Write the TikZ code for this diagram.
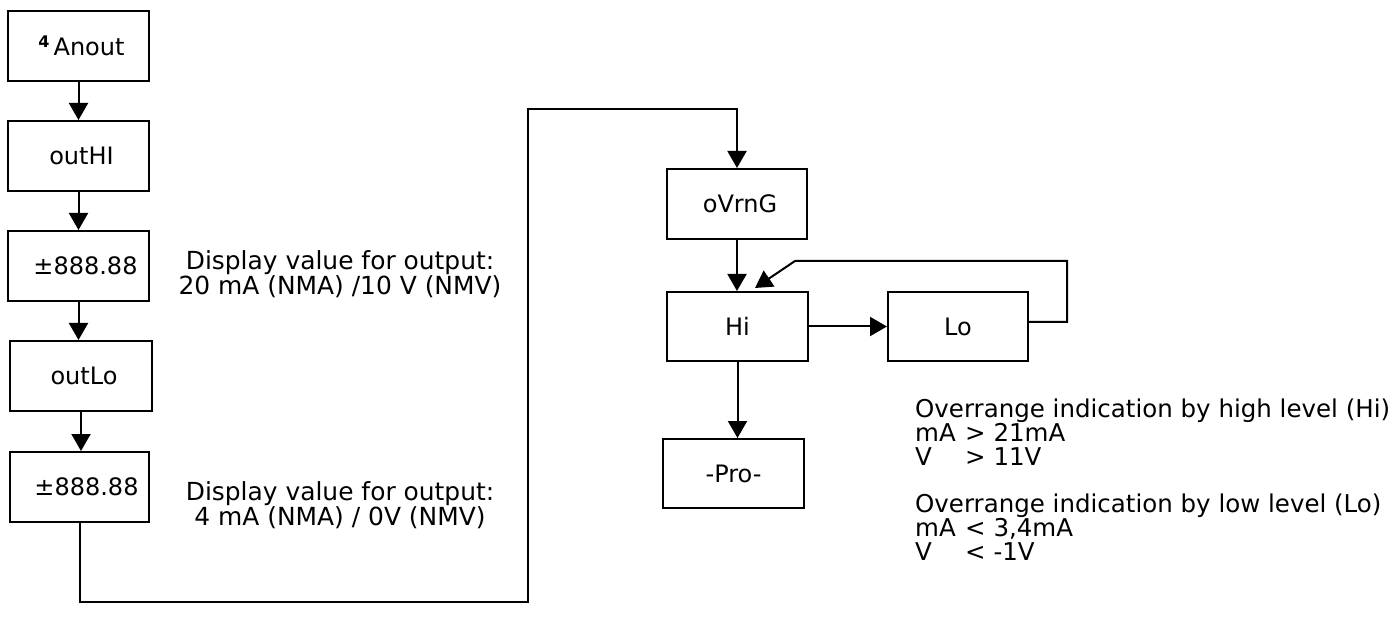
\documentclass[tikz,border=0pt]{standalone}
\usepackage{fontspec}
\setmainfont{DejaVu Sans}
\usetikzlibrary{arrows.meta}
\begin{document}
\begin{tikzpicture}[x=1pt,y=-1pt,
  box/.style={draw,line width=2pt,rectangle,inner sep=0pt,minimum width=141pt,minimum height=70pt,font=\fontsize{24}{26}\selectfont},
  conn/.style={line width=2pt},
  arr/.style={line width=2pt,-{Triangle[width=19pt,length=17pt]}},
  note/.style={font=\fontsize{24.5}{23.8}\selectfont,inner sep=0pt},
  lnote/.style={font=\fontsize{24.9}{24}\selectfont,inner sep=0pt,align=center}]
\useasboundingbox (0,0) rectangle (1400,617);
% left column
\node[box] (anout) at (78.5,46) {\hspace*{6pt}{\fontsize{16}{16}\selectfont\bfseries\raisebox{8pt}{4}}\,Anout};
\node[box] (outhi) at (78.5,156) {\hspace*{6pt}outHI};
\node[box] (pmone) at (78.5,266) {\hspace*{14pt}±888.88};
\node[box,minimum width=142pt] (outlo) at (81,376) {\hspace*{6pt}outLo};
\node[box,minimum width=139pt] (pmtwo) at (79.5,487) {\hspace*{14pt}±888.88};
% notes left
\node[lnote] (noteone) at (340,274) {Display value for output:\\20 mA (NMA) /10 V (NMV)};
\node[lnote] (notetwo) at (340,505) {Display value for output:\\4 mA (NMA) / 0V (NMV)};
% right column
\node[box,minimum width=140pt] (ovr) at (737,204) {\hspace*{6pt}oVrnG};
\node[box,minimum height=69pt] (hi) at (737.5,326.5) {Hi};
\node[box,minimum width=140pt,minimum height=69pt] (lo) at (958,326.5) {Lo};
\node[box,minimum height=69pt] (pro) at (733.5,473.5) {-Pro-};
% notes right
\node[note,align=left,anchor=north west] (hinote) at (915,399) {Overrange indication by high level (Hi)\\\makebox[50pt][l]{mA}> 21mA\\\makebox[50pt][l]{V}> 11V};
\node[note,align=left,anchor=north west] (lonote) at (915,494) {Overrange indication by low level (Lo)\\\makebox[50pt][l]{mA}< 3,4mA\\\makebox[50pt][l]{V}< -1V};
% arrows left
\draw[arr] (anout) -- (outhi);
\draw[arr] (outhi) -- (pmone);
\draw[arr] (pmone.south) -- (pmone.south |- outlo.north);
\draw[arr] (outlo.south) -- (outlo.south |- pmtwo.north);
% long connector
\coordinate (ca) at (528,602);
\coordinate (cb) at (528,109);
\draw[arr,line join=miter] (pmtwo.south) -- (pmtwo.south |- ca) -- (ca) -- (cb) -- (cb -| ovr.north) -- (ovr.north);
% right arrows
\draw[arr] (ovr.south) -- (ovr.south |- hi.north);
\draw[arr] (hi) -- (lo);
\draw[arr] (hi.south) -- (hi.south |- pro.north);
\coordinate (fa) at (1067,322);
\coordinate (fb) at (1067,261);
\coordinate (fc) at (795,261);
\coordinate (fd) at (755,288);
\draw[arr,line join=miter] (lo.east |- fa) -- (fa) -- (fb) -- (fc) -- (fd);
\end{tikzpicture}
\end{document}
